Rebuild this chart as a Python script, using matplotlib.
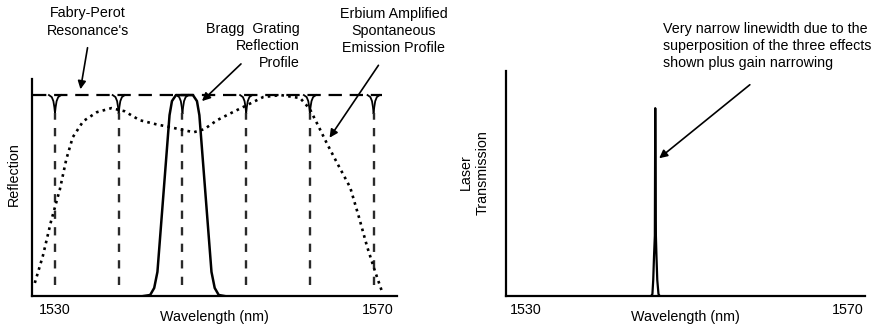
import matplotlib.pyplot as plt

plt.rcParams['font.family'] = ['Liberation Sans', 'DejaVu Sans']

# Fabry-Perot resonance positions (nm)
fp_res = [1530.0, 1537.9, 1545.8, 1553.7, 1561.6, 1569.5]
fp_top = 1.0
fp_floor = 0.055
# hook shape where the flat top bends into each resonance
hook_dx = [-0.75, -0.4, -0.2, -0.08, 0.0]
hook_dy = [1.0, 0.99, 0.97, 0.94, 0.91]

# Erbium ASE profile
ase_wl = [1527.5, 1528.5, 1529.5, 1530.6, 1531.4, 1532.2, 1533.5, 1535.2, 1537.0,
          1538.6, 1540.5, 1542.5, 1544.3, 1546.0, 1547.2, 1548.5, 1550.1, 1551.8,
          1553.3, 1555.8, 1558.0, 1560.4, 1561.6, 1562.6, 1563.7, 1565.0, 1566.6,
          1567.7, 1568.7, 1569.7, 1570.6]
ase_r = [0.065, 0.2, 0.37, 0.53, 0.68, 0.79, 0.87, 0.915, 0.935,
         0.92, 0.875, 0.855, 0.84, 0.825, 0.815, 0.83, 0.875, 0.91,
         0.94, 0.99, 1.0, 0.985, 0.93, 0.85, 0.76, 0.66, 0.54,
         0.39, 0.245, 0.12, 0.015]

# Bragg grating reflection band
bragg_wl = [1541.0, 1541.8, 1542.3, 1542.7, 1544.2, 1544.5, 1545.0, 1547.1,
            1547.6, 1547.9, 1549.4, 1549.8, 1550.3, 1551.0]
bragg_r = [0.0, 0.005, 0.04, 0.12, 0.9, 0.97, 1.0, 1.0,
           0.97, 0.9, 0.12, 0.04, 0.005, 0.0]

# Laser output line
laser_wl = [1545.6, 1545.75, 1545.85, 1545.95, 1546.05, 1546.1, 1546.18,
            1546.25, 1546.35, 1546.5, 1546.65]
laser_t = [0.0, 0.01, 0.08, 0.2, 0.3, 0.935, 0.3, 0.2, 0.08, 0.01, 0.0]

FS = 10.3

fig = plt.figure(figsize=(8.76, 3.30), dpi=100)
ax1 = fig.add_axes([32/876, 34/330, 365/876, 217/330])
ax2 = fig.add_axes([506/876, 34/330, 359/876, 225/330])

for ax in (ax1, ax2):
    for s in ('top', 'right'):
        ax.spines[s].set_visible(False)
    for s in ('left', 'bottom'):
        ax.spines[s].set_linewidth(1.6)
    ax.set_yticks([])
    ax.set_xticks([1530, 1570])
    ax.tick_params(axis='x', length=0, labelsize=FS, pad=5)
    ax.set_xlabel('Wavelength (nm)', fontsize=FS, labelpad=-5)

ax1.set_xlim(1527.15, 1572.4)
ax1.set_ylim(0, 1.08)
ax2.set_xlim(1527.6, 1572.1)
ax2.set_ylim(0, 1.12)

# Fabry-Perot comb: flat top, hooks and dashed resonance lines
ax1.hlines(fp_top, 1527.3, 1570.6, colors='black', linestyles=(0, (6, 3.5)), lw=1.6)
for r in fp_res:
    ax1.plot([r + d for d in hook_dx], hook_dy, color='black', lw=1.3)
    ax1.plot([r - d for d in hook_dx], hook_dy, color='black', lw=1.3)
    ax1.vlines(r, fp_floor, hook_dy[-1], colors='#2a2a2a',
               linestyles=(0, (3.5, 3.5)), lw=1.7)

ax1.plot(ase_wl, ase_r, color='black', lw=1.9, linestyle=(0, (1, 1.6)))
ax1.plot(bragg_wl, bragg_r, color='black', lw=1.8)

ax1.set_ylabel('Reflection', fontsize=FS)
ax1.yaxis.set_label_coords(-0.03, 0.56)

arrow = dict(arrowstyle='-|>', color='black', lw=1.2, mutation_scale=12)
ax1.annotate("Fabry-Perot\nResonance's", xy=(88, 330 - 22), xycoords='figure pixels',
             ha='center', va='center', fontsize=FS, linespacing=1.3)
ax1.annotate('', xy=(80, 330 - 92), xycoords='figure pixels',
             xytext=(88, 330 - 45), textcoords='figure pixels', arrowprops=arrow)

ax1.annotate('Bragg  Grating\nReflection\nProfile', xy=(300, 330 - 46),
             xycoords='figure pixels', ha='right', va='center',
             fontsize=FS, linespacing=1.3)
ax1.annotate('', xy=(200, 330 - 103), xycoords='figure pixels',
             xytext=(243, 330 - 62), textcoords='figure pixels', arrowprops=arrow)

ax1.annotate('Erbium Amplified\nSpontaneous\nEmission Profile', xy=(394, 330 - 31),
             xycoords='figure pixels', ha='center', va='center',
             fontsize=FS, linespacing=1.3)
ax1.annotate('', xy=(328, 330 - 140), xycoords='figure pixels',
             xytext=(380, 330 - 63), textcoords='figure pixels', arrowprops=arrow)

ax2.plot(laser_wl, laser_t, color='black', lw=1.6)
ax2.set_ylabel('Laser\nTransmission', fontsize=FS, linespacing=1.25)
ax2.yaxis.set_label_coords(-0.045, 0.55)

ax2.annotate('Very narrow linewidth due to the\nsuperposition of the three effects\n'
             'shown plus gain narrowing', xy=(663, 330 - 46), xycoords='figure pixels',
             ha='left', va='center', fontsize=FS, linespacing=1.3)
ax2.annotate('', xy=(657, 330 - 160), xycoords='figure pixels',
             xytext=(752, 330 - 83), textcoords='figure pixels', arrowprops=arrow)

fig.savefig('out.png', dpi=100, facecolor='white')
